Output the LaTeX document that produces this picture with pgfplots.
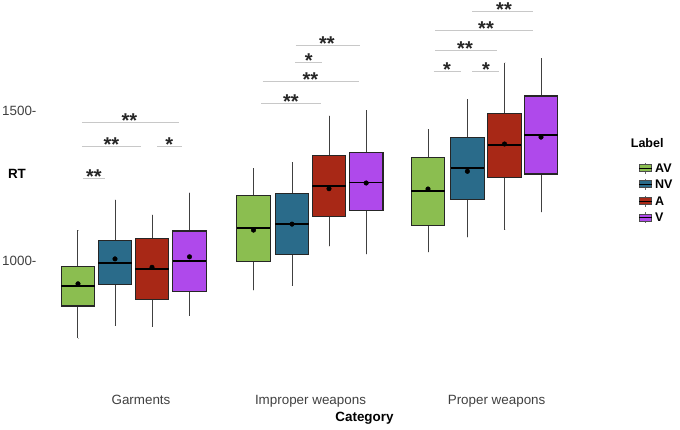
\documentclass[border=0pt]{standalone}
\usepackage{pgfplots}
\pgfplotsset{compat=1.18}
\usepgfplotslibrary{statistics}
\usepackage{fontspec}
\setmainfont{Liberation Sans}
\definecolor{cAV}{RGB}{139,190,80}
\definecolor{cNV}{RGB}{42,107,138}
\definecolor{cA}{RGB}{168,40,22}
\definecolor{cV}{RGB}{175,73,235}
\definecolor{sig}{RGB}{200,200,200}
\newcommand{\tfont}{\fontsize{13.4}{14}\selectfont}
\newcommand{\sfont}{\bfseries\fontsize{20}{20}\selectfont}
\begin{document}
\begin{tikzpicture}
\path[use as bounding box] (-40pt,-74pt) rectangle (640pt,355pt);
\begin{axis}[
  at={(0pt,0pt)}, anchor=south west,
  width=550pt, height=350pt, scale only axis,
  xmin=40, xmax=590, ymin=686.7, ymax=1853.3,
  axis line style={draw=none},
  major tick length=0pt,
  xtick={141,310.5,496.6},
  xticklabels={Garments,Improper weapons,Proper weapons},
  xticklabel style={anchor=base, yshift=-49pt, font=\tfont, text=black!75},
  ytick={1000,1500}, yticklabels={1000-,1500-},
  yticklabel style={font=\tfont, text=black!75},
  /pgf/number format/assume math mode=true,
  clip=false,
  xlabel={\bfseries Category},
  xlabel style={at={(axis description cs:0.59,-0.18)}, anchor=center, font=\tfont},
  boxplot/draw direction=y,
  boxplot/every box/.style={draw=black!85, line width=1.1pt},
  boxplot/every whisker/.style={draw=black!75, line width=1pt},
  boxplot/every median/.style={draw=black, line width=1.8pt},
]
% Garments
\addplot+[boxplot prepared={draw position=78, lower whisker=743, lower quartile=850, median=917, upper quartile=981, upper whisker=1103, box extend=33.5, whisker extend=0.01}, fill=cAV, draw=black!85, solid, mark=none] coordinates {};
\addplot+[boxplot prepared={draw position=115, lower whisker=784, lower quartile=921, median=993, upper quartile=1069, upper whisker=1204, box extend=33.5, whisker extend=0.01}, fill=cNV, draw=black!85, solid, mark=none] coordinates {};
\addplot+[boxplot prepared={draw position=152, lower whisker=781, lower quartile=871, median=974, upper quartile=1074, upper whisker=1154, box extend=33.5, whisker extend=0.01}, fill=cA, draw=black!85, solid, mark=none] coordinates {};
\addplot+[boxplot prepared={draw position=189.5, lower whisker=817, lower quartile=898, median=1000, upper quartile=1100, upper whisker=1228, box extend=33.5, whisker extend=0.01}, fill=cV, draw=black!85, solid, mark=none] coordinates {};
% Improper weapons
\addplot+[boxplot prepared={draw position=253.5, lower whisker=903, lower quartile=997, median=1109, upper quartile=1219, upper whisker=1310, box extend=33.5, whisker extend=0.01}, fill=cAV, draw=black!85, solid, mark=none] coordinates {};
\addplot+[boxplot prepared={draw position=292, lower whisker=918, lower quartile=1021, median=1124, upper quartile=1224, upper whisker=1330, box extend=33.5, whisker extend=0.01}, fill=cNV, draw=black!85, solid, mark=none] coordinates {};
\addplot+[boxplot prepared={draw position=329, lower whisker=1049, lower quartile=1148, median=1250, upper quartile=1352, upper whisker=1484, box extend=33.5, whisker extend=0.01}, fill=cA, draw=black!85, solid, mark=none] coordinates {};
\addplot+[boxplot prepared={draw position=366.2, lower whisker=1022, lower quartile=1167, median=1262, upper quartile=1362, upper whisker=1503, box extend=33.5, whisker extend=0.01}, fill=cV, draw=black!85, solid, mark=none] coordinates {};
% Proper weapons
\addplot+[boxplot prepared={draw position=428, lower whisker=1030, lower quartile=1119, median=1233, upper quartile=1346, upper whisker=1439, box extend=33.5, whisker extend=0.01}, fill=cAV, draw=black!85, solid, mark=none] coordinates {};
\addplot+[boxplot prepared={draw position=467.4, lower whisker=1079, lower quartile=1204, median=1309, upper quartile=1412, upper whisker=1539, box extend=33.5, whisker extend=0.01}, fill=cNV, draw=black!85, solid, mark=none] coordinates {};
\addplot+[boxplot prepared={draw position=504.5, lower whisker=1104, lower quartile=1277, median=1387, upper quartile=1493, upper whisker=1661, box extend=33.5, whisker extend=0.01}, fill=cA, draw=black!85, solid, mark=none] coordinates {};
\addplot+[boxplot prepared={draw position=541, lower whisker=1163, lower quartile=1290, median=1421, upper quartile=1550, upper whisker=1676, box extend=33.5, whisker extend=0.01}, fill=cV, draw=black!85, solid, mark=none] coordinates {};
% means
\addplot[only marks, mark=*, mark size=2.3pt, black] coordinates {
 (78,924) (115,1007) (152,979) (189.5,1014)
 (253.5,1103) (292,1123) (329,1241) (366.2,1260)
 (428,1240) (467.4,1299) (504.5,1390) (541,1413)};
% significance lines
\pgfplotsset{sigline/.style={sig, line width=1pt, forget plot}}
\addplot[sigline] coordinates {(83,1274.3) (105,1274.3)};
\addplot[sigline] coordinates {(82,1381) (141,1381)};
\addplot[sigline] coordinates {(157,1381) (182,1381)};
\addplot[sigline] coordinates {(82,1462.3) (179,1462.3)};
\addplot[sigline] coordinates {(261,1524.3) (321,1524.3)};
\addplot[sigline] coordinates {(262.7,1596.7) (359,1596.7)};
\addplot[sigline] coordinates {(295,1661) (322,1661)};
\addplot[sigline] coordinates {(295.7,1717.7) (359.7,1717.7)};
\addplot[sigline] coordinates {(433.7,1632.3) (460.7,1632.3)};
\addplot[sigline] coordinates {(472,1632.3) (499,1632.3)};
\addplot[sigline] coordinates {(435,1700) (496.7,1700)};
\addplot[sigline] coordinates {(435,1769) (533,1769)};
\addplot[sigline] coordinates {(472,1831) (533,1831)};
% stars
\tikzset{star/.style={anchor=base, yshift=-4.9pt, inner sep=0pt, font=\sfont, text=black!85}}
\node[star] at (axis cs:94,1274.3) {**};
\node[star] at (axis cs:111.3,1381) {**};
\node[star] at (axis cs:169.3,1381) {*};
\node[star] at (axis cs:129.3,1462.3) {**};
\node[star] at (axis cs:291,1524.3) {**};
\node[star] at (axis cs:310.5,1596.7) {**};
\node[star] at (axis cs:308.7,1661) {*};
\node[star] at (axis cs:327,1717.7) {**};
\node[star] at (axis cs:447,1632.3) {*};
\node[star] at (axis cs:486,1632.3) {*};
\node[star] at (axis cs:465,1700) {**};
\node[star] at (axis cs:486,1769) {**};
\node[star] at (axis cs:504,1831) {**};
\end{axis}
\begin{scope}[shift={(-40pt,355pt)}, x=1pt, y=-1pt]
\node[font=\bfseries\tfont, inner sep=0pt] at (17,173.5) {RT};
\node[anchor=west, font=\bfseries\fontsize{12.5}{13}\selectfont, inner sep=0pt] at (630.7,142.7) {Label};
\foreach \c/\y/\t in {cAV/168/AV, cNV/184/NV, cA/201/A, cV/217.5/V}{
  \draw[black!60, line width=0.5pt] (645.3,\y-5.5) -- (645.3,\y+5.5);
  \draw[fill=\c, draw=black!70, line width=0.6pt] (639,\y-3.6) rectangle (651.7,\y+3.6);
  \draw[black, line width=0.8pt] (639,\y) -- (651.7,\y);
  \node[anchor=west, font=\bfseries\fontsize{12.5}{13}\selectfont, inner sep=0pt] at (655,\y) {\t};
}
\end{scope}
\end{tikzpicture}
\end{document}
